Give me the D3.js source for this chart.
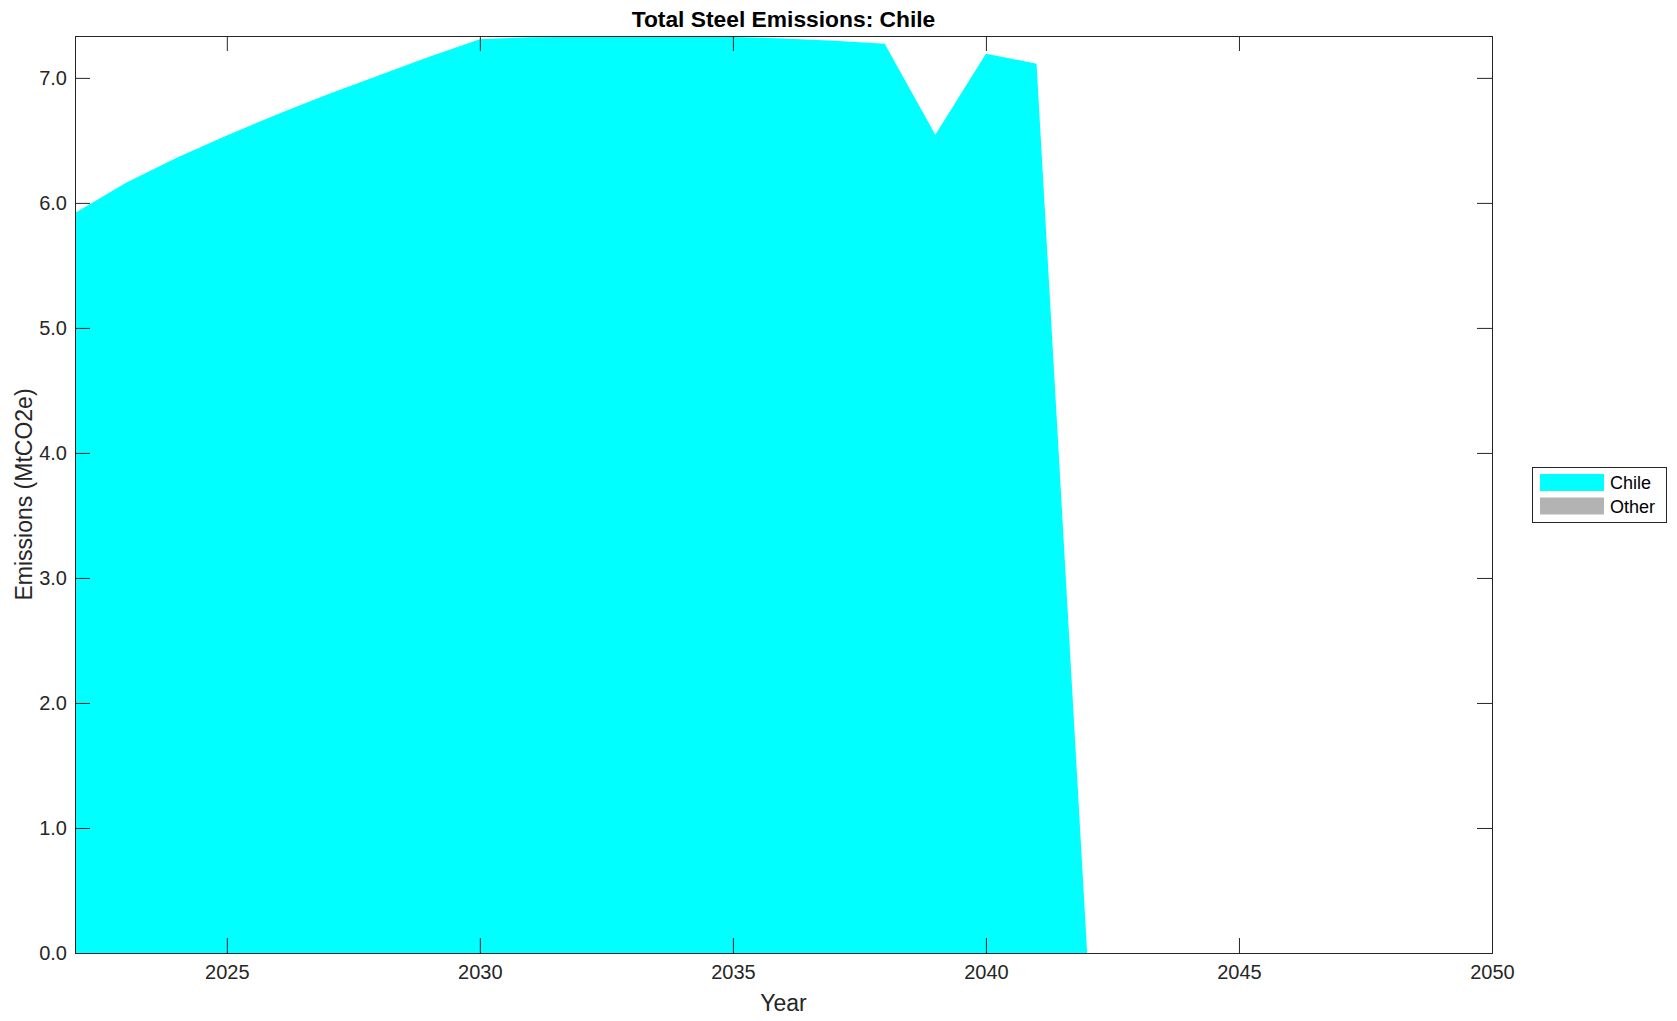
<!DOCTYPE html>
<html lang="en">
<head>
    <meta charset="UTF-8">
    <title>Total Steel Emissions: Chile</title>
    <script src="https://d3js.org/d3.v7.min.js"></script>
    <style>
        html, body {
            margin: 0;
            background: #fff;
        }
        text {
            font-family: "Liberation Sans", Arial, Helvetica, sans-serif;
        }
    </style>
</head>
<body>
<div id="vis"></div>
<script>
// data
var years = d3.range(2022, 2051);
var chile = [5.92, 6.16, 6.36, 6.54, 6.71, 6.87, 7.02, 7.17, 7.31, 7.325,
    7.33, 7.335, 7.335, 7.328, 7.315, 7.297, 7.274, 6.546, 7.194, 7.114,
    0, 0, 0, 0, 0, 0, 0, 0, 0];
var other = years.map(function() { return 0; });
var seriesNames = ['Chile', 'Other'];
var seriesColours = ['#00ffff', '#b3b3b3'];
var xTicks = [2025, 2030, 2035, 2040, 2045, 2050];
var yTicks = [0, 1, 2, 3, 4, 5, 6, 7];

var W = 1677, H = 1021;
var margin = {top: 36, right: 185, bottom: 68, left: 75};
var width = W - margin.left - margin.right;   // 1417
var height = H - margin.top - margin.bottom;  // 917

var svg = d3.select('#vis')
    .append('svg')
    .attr('width', W)
    .attr('height', H);

var g = svg.append('g')
    .attr('transform', 'translate(' + margin.left + ',' + margin.top + ')');

var rows = years.map(function(y, i) {
    return {year: y, Chile: chile[i], Other: other[i]};
});

var stack = d3.stack().keys(seriesNames);
var layers = stack(rows);

var x_scale = d3.scaleLinear()
    .domain([2022, 2050])
    .range([0, width]);

var y_scale = d3.scaleLinear()
    .domain([0, d3.max(layers[layers.length - 1], function(d) { return d[1]; })])
    .range([height, 0]);

var area = d3.area()
    .x(function(d) { return x_scale(d.data.year); })
    .y0(function(d) { return y_scale(d[0]); })
    .y1(function(d) { return y_scale(d[1]); });

g.selectAll('.layer')
    .data(layers)
    .enter()
    .append('path')
    .attr('class', 'layer')
    .attr('d', area)
    .attr('fill', function(d, i) { return seriesColours[i]; })
    .attr('stroke', 'none');

var axisColour = '#262626';
var tickLen = 15;

function styleAxis(sel) {
    sel.select('.domain').remove();
    sel.selectAll('.tick line').attr('stroke', axisColour).attr('stroke-width', 1);
    sel.selectAll('.tick text')
        .attr('fill', axisColour)
        .style('font-size', '20px')
        .style('font-family', '"Liberation Sans", Arial, Helvetica, sans-serif');
}

// bottom axis
g.append('g')
    .attr('transform', 'translate(0,' + height + ')')
    .call(d3.axisBottom(x_scale).tickValues(xTicks).tickFormat(d3.format('d'))
        .tickSizeInner(-tickLen).tickSizeOuter(0).tickPadding(12))
    .call(styleAxis);

// top axis (ticks only)
g.append('g')
    .call(d3.axisTop(x_scale).tickValues(xTicks).tickFormat('')
        .tickSizeInner(-tickLen).tickSizeOuter(0))
    .call(styleAxis);

// left axis
g.append('g')
    .call(d3.axisLeft(y_scale).tickValues(yTicks).tickFormat(d3.format('.1f'))
        .tickSizeInner(-tickLen).tickSizeOuter(0).tickPadding(8))
    .call(styleAxis);

// right axis (ticks only)
g.append('g')
    .attr('transform', 'translate(' + width + ',0)')
    .call(d3.axisRight(y_scale).tickValues(yTicks).tickFormat('')
        .tickSizeInner(-tickLen).tickSizeOuter(0))
    .call(styleAxis);

// box
g.append('rect')
    .attr('x', 0.5)
    .attr('y', 0.5)
    .attr('width', width)
    .attr('height', height)
    .attr('fill', 'none')
    .attr('stroke', axisColour)
    .attr('stroke-width', 1);

// title and labels
svg.append('text')
    .attr('x', margin.left + width / 2)
    .attr('y', 27)
    .attr('text-anchor', 'middle')
    .style('font-size', '22.8px')
    .style('font-weight', 'bold')
    .attr('fill', '#000')
    .text('Total Steel Emissions: Chile');

svg.append('text')
    .attr('x', margin.left + width / 2)
    .attr('y', 1011)
    .attr('text-anchor', 'middle')
    .style('font-size', '23px')
    .attr('fill', axisColour)
    .text('Year');

svg.append('text')
    .attr('transform', 'translate(32,' + (margin.top + height / 2) + ') rotate(-90)')
    .attr('text-anchor', 'middle')
    .style('font-size', '23px')
    .attr('fill', axisColour)
    .text('Emissions (MtCO2e)');

// legend
var legend = svg.append('g')
    .attr('transform', 'translate(1532,467)');

legend.append('rect')
    .attr('x', 0.5)
    .attr('y', 0.5)
    .attr('width', 134)
    .attr('height', 55)
    .attr('fill', '#fff')
    .attr('stroke', axisColour)
    .attr('stroke-width', 1);

var items = legend.selectAll('.item')
    .data(seriesNames)
    .enter()
    .append('g')
    .attr('class', 'item')
    .attr('transform', function(d, i) { return 'translate(0,' + (7 + i * 23.5) + ')'; });

items.append('rect')
    .attr('x', 8)
    .attr('y', 0)
    .attr('width', 64)
    .attr('height', 17)
    .attr('fill', function(d, i) { return seriesColours[i]; });

items.append('text')
    .attr('x', 78)
    .attr('y', 15)
    .style('font-size', '18px')
    .attr('fill', '#000')
    .text(function(d) { return d; });
</script>
</body>
</html>
